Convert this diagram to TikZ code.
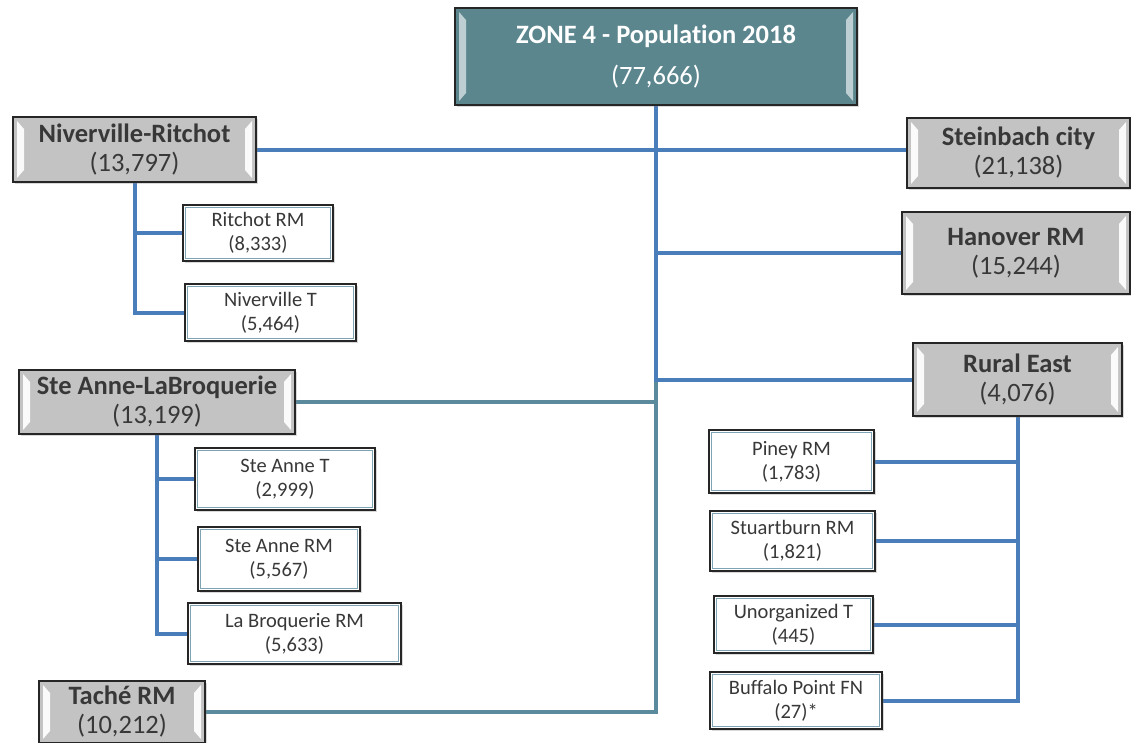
\documentclass[tikz,border=0pt]{standalone}
\usepackage{fontspec}
\setmainfont{Carlito}[Ligatures=NoCommon]
\usetikzlibrary{shadows,calc,backgrounds}
\definecolor{lblue}{HTML}{4A7EBB}
\definecolor{lteal}{HTML}{5A8A9B}
\definecolor{zfill}{HTML}{5B868E}
\definecolor{gfill}{HTML}{C3C3C3}
\definecolor{txt}{HTML}{383838}
\definecolor{inner}{HTML}{7EA4B4}
\newcommand\mybevel[1]{%
  \fill[#1] ($(path picture bounding box.north west)+(4,4)$) -- ($(path picture bounding box.north west)+(11,12)$) -- ($(path picture bounding box.south west)+(11,-12)$) -- ($(path picture bounding box.south west)+(4,-4)$) -- cycle;
  \fill[#1] ($(path picture bounding box.north east)+(-4,4)$) -- ($(path picture bounding box.north east)+(-11,12)$) -- ($(path picture bounding box.south east)+(-11,-12)$) -- ($(path picture bounding box.south east)+(-4,-4)$) -- cycle;}
\tikzset{
  base/.style={rectangle, draw=black!85, line width=1.6pt, inner sep=0pt, align=center,
    drop shadow={opacity=0.3, shadow xshift=2pt, shadow yshift=-2pt}},
  gbox/.style={base, fill=gfill, text=txt, font=\fontsize{26.5}{29}\selectfont,
    path picture={\mybevel{white!92!gfill}}},
  zbox/.style={base, fill=zfill, text=white, font=\fontsize{26.5}{41}\selectfont,
    path picture={\mybevel{zfill!40!white}}},
  cbox/.style={base, fill=white, text=txt, font=\fontsize{20.5}{24}\selectfont,
    path picture={\draw[inner, line width=1.5pt] ($(path picture bounding box.north west)+(2.6,2.6)$) rectangle ($(path picture bounding box.south east)+(-2.6,-2.6)$);}},
  blueline/.style={draw=lblue, line width=4pt},
  tealline/.style={draw=lteal, line width=4pt}
}
\begin{document}
\begin{tikzpicture}[x=1pt,y=-1pt]
\useasboundingbox (0,0) rectangle (1131,742);
% main nodes
\node[zbox, minimum width=402pt, minimum height=97pt] (zone) at (656,56.5) {\textbf{ZONE 4 - Population 2018}\\(77,666)};
\node[gbox, minimum width=243pt, minimum height=65pt] (nr) at (134.5,149.5) {\textbf{Niverville-Ritchot}\\(13,797)};
\node[cbox, minimum width=150pt, minimum height=56pt] (rr) at (258,233) {Ritchot RM\\(8,333)};
\node[cbox, minimum width=171pt, minimum height=57pt] (nt) at (270.5,312.5) {Niverville T\\(5,464)};
\node[gbox, minimum width=276pt, minimum height=64pt] (sa) at (157,402) {\textbf{Ste Anne-LaBroquerie}\\(13,199)};
\node[cbox, minimum width=180pt, minimum height=62pt] (sat) at (285,479) {Ste Anne T\\(2,999)};
\node[cbox, minimum width=162pt, minimum height=64pt] (sar) at (279,559) {Ste Anne RM\\(5,567)};
\node[cbox, minimum width=213pt, minimum height=61pt] (lbr) at (294.5,633.5) {La Broquerie RM\\(5,633)};
\node[gbox, minimum width=166pt, minimum height=62pt] (tache) at (122,712) {\textbf{Taché RM}\\(10,212)};
\node[gbox, minimum width=223pt, minimum height=70pt] (sb) at (1018.5,153) {\textbf{Steinbach city}\\(21,138)};
\node[gbox, minimum width=228pt, minimum height=82pt] (hr) at (1016,253) {\textbf{Hanover RM}\\(15,244)};
\node[gbox, minimum width=209pt, minimum height=73pt] (re) at (1017.5,379.5) {\textbf{Rural East}\\(4,076)};
\node[cbox, minimum width=165pt, minimum height=63pt] (pin) at (791.5,461.5) {Piney RM\\(1,783)};
\node[cbox, minimum width=165pt, minimum height=60pt] (stu) at (792.5,541) {Stuartburn RM\\(1,821)};
\node[cbox, minimum width=159pt, minimum height=57pt] (uno) at (793.5,624.5) {Unorganized T\\(445)};
\node[cbox, minimum width=172pt, minimum height=57pt] (buf) at (796,700.5) {Buffalo Point FN\\(27)*};
% connectors
\begin{scope}[on background layer]
\draw[tealline] (sa.east) -- (sa.east -| zone.south);
\draw[tealline] (zone.south |- re.west) -- (zone.south |- tache.east) -- (tache.east);
\draw[blueline] (zone.south) -- (zone.south |- re.west) -- (re.west);
\draw[blueline] (nr.east) -- (nr.east -| sb.west);
\draw[blueline] (zone.south |- hr.west) -- (hr.west);
\draw[blueline] (nr.south) |- (rr.west);
\draw[blueline] (nr.south) |- (nt.west);
\draw[blueline] (sa.south) |- (sat.west);
\draw[blueline] (sa.south) |- (sar.west);
\draw[blueline] (sa.south) |- (lbr.west);
\draw[blueline] (re.south) |- (pin.east);
\draw[blueline] (re.south) |- (stu.east);
\draw[blueline] (re.south) |- (uno.east);
\draw[blueline] (re.south) |- (buf.east);
\end{scope}
\end{tikzpicture}
\end{document}
